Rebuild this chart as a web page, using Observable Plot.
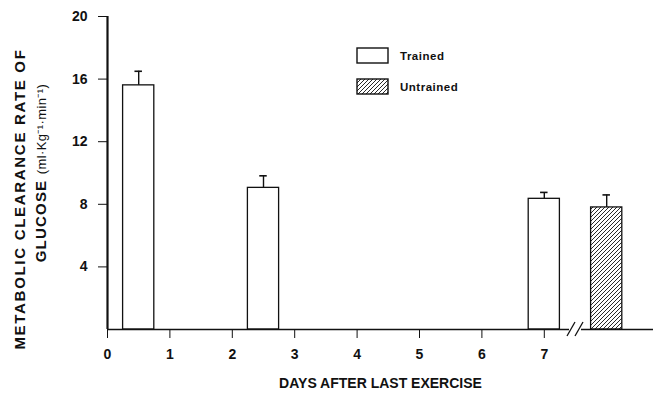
<!DOCTYPE html>
<html>
<head>
<meta charset="utf-8">
<script src="https://cdn.jsdelivr.net/npm/d3@7"></script>
<script src="https://cdn.jsdelivr.net/npm/@observablehq/plot@0.6"></script>
<style>
  html, body { margin: 0; padding: 0; background: #fff; }
  #chart { width: 657px; height: 393px; }
</style>
</head>
<body>
<div id="chart"></div>
<script>
// ---- data ----
const groups = ["Trained", "Trained", "Trained", "Untrained"];
const days   = [0.5, 2.5, 7, 8];          // 8 = untrained bar placed after the axis break
const values = [15.6, 9.05, 8.35, 7.8];
const upper  = [16.5, 9.82, 8.76, 8.6];
const xTicks = [0, 1, 2, 3, 4, 5, 6, 7];
const yTicks = [4, 8, 12, 16, 20];
const axisBreak = [7.5];
const yLabel1 = "METABOLIC CLEARANCE RATE OF";
const yLabel2 = "GLUCOSE (ml·Kg⁻¹·min⁻¹)";
const xLabel = "DAYS AFTER LAST EXERCISE";
const legendItems = ["Trained", "Untrained"];

const data = groups.map((g, i) => ({group: g, day: days[i], value: values[i], upper: upper[i]}));
const barHalf = 0.25, capHalf = 0.06;
const ink = "#111";

const plot = Plot.plot({
  width: 657,
  height: 393,
  marginLeft: 107,
  marginRight: 4,
  marginTop: 16,
  marginBottom: 64,
  style: {fontFamily: "'Liberation Sans', Arial, sans-serif", fontSize: "14px", fontWeight: "bold", color: ink, background: "#fff"},
  x: {domain: [0, 8.75], ticks: xTicks, tickSize: 9, tickPadding: 11, tickFormat: d => d, label: null},
  y: {domain: [0, 20], ticks: yTicks, tickSize: 9, tickPadding: 11, tickFormat: d => d, label: null},
  marks: [
    Plot.rectY(data, {
      x1: d => d.day - barHalf, x2: d => d.day + barHalf, y1: 0, y2: "value",
      fill: d => d.group === "Trained" ? "#fff" : "url(#hatch)",
      stroke: ink, strokeWidth: 1.3
    }),
    Plot.ruleX(data, {x: "day", y1: "value", y2: "upper", stroke: ink, strokeWidth: 1.4}),
    Plot.ruleY(data, {y: "upper", x1: d => d.day - capHalf, x2: d => d.day + capHalf, stroke: ink, strokeWidth: 1.6}),
    Plot.ruleY([0], {stroke: ink, strokeWidth: 1.6}),
    Plot.ruleX([0], {y1: 0, y2: 20, stroke: ink, strokeWidth: 2.2}),
    Plot.text([yLabel1], {frameAnchor: "left", textAnchor: "middle", rotate: -90, dx: -87, dy: 26, fontSize: 15, fontWeight: "bold", fill: ink}),
    Plot.text([yLabel2], {frameAnchor: "left", textAnchor: "middle", rotate: -90, dx: -66, dy: 0, fontSize: 15, fontWeight: "bold", fill: ink}),
    Plot.text([xLabel], {frameAnchor: "bottom", dy: 58, fontSize: 14, fontWeight: "bold", fill: ink})
  ]
});

const svg = d3.select(plot);
// hatch pattern
const defs = svg.insert("defs", ":first-child");
defs.append("pattern")
  .attr("id", "hatch").attr("patternUnits", "userSpaceOnUse")
  .attr("width", 4).attr("height", 4)
  .append("path")
  .attr("d", "M-1,1 l2,-2 M0,4 l4,-4 M3,5 l2,-2")
  .attr("stroke", ink).attr("stroke-width", 0.9);

// letter spacing for y label
svg.selectAll("text").filter(function() { return this.textContent === yLabel1; })
  .attr("letter-spacing", 1.7);
// second line: lighter parenthetical with superscripts
svg.selectAll("text").filter(function() { return this.textContent === yLabel2; })
  .each(function() {
    const t = d3.select(this);
    t.text(null).attr("letter-spacing", 1.2);
    t.append("tspan").text("GLUCOSE ");
    t.append("tspan").attr("font-weight", "normal").attr("font-size", 13).attr("letter-spacing", 0.4).text("(ml·Kg⁻¹·min⁻¹)");
  });

// axis break marks on x axis
const sx = plot.scale("x"), sy = plot.scale("y");
const gb = svg.append("g").attr("stroke", ink).attr("stroke-width", 1.3);
axisBreak.forEach(b => {
  const cx = sx.apply(b), cy = sy.apply(0);
  gb.append("rect").attr("x", cx - 6).attr("y", cy - 2).attr("width", 12).attr("height", 4).attr("fill", "#fff").attr("stroke", "none");
  [-4, 4].forEach(o => gb.append("line")
    .attr("x1", cx + o - 4).attr("y1", cy + 7).attr("x2", cx + o + 4).attr("y2", cy - 7));
});

// legend
const lg = svg.append("g").attr("font-family", "'Liberation Sans', Arial, sans-serif").attr("font-size", 11.5).attr("fill", ink).attr("text-anchor", "start");
legendItems.forEach((name, i) => {
  const y0 = 48 + i * 31;
  lg.append("rect").attr("x", 357).attr("y", y0).attr("width", 31).attr("height", 15)
    .attr("fill", i === 0 ? "#fff" : "url(#hatch)").attr("stroke", ink).attr("stroke-width", 1.4);
  lg.append("text").attr("x", 400).attr("y", y0 + 12).attr("text-anchor", "start").attr("font-weight", "bold").attr("letter-spacing", 0.5).text(name);
});

document.getElementById("chart").appendChild(plot);
</script>
</body>
</html>
